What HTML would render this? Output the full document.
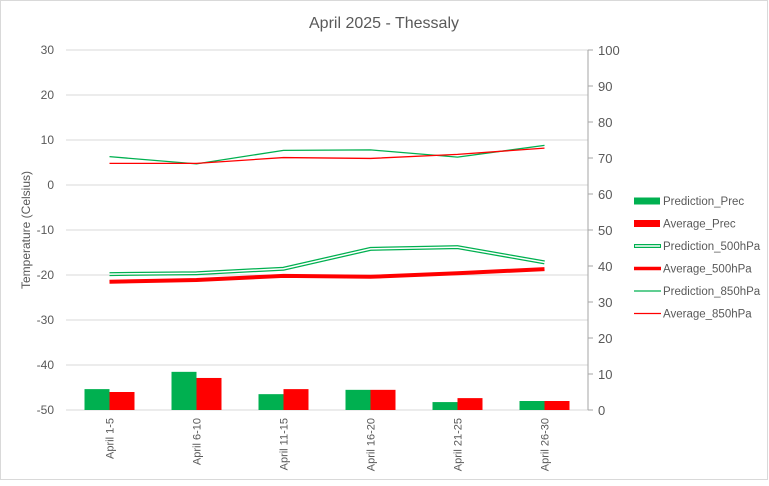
<!DOCTYPE html>
<html><head><meta charset="utf-8"><style>
body{margin:0;background:#fff;}
svg text{font-family:"Liberation Sans",sans-serif;fill:#595959;}
</style></head><body>
<svg width="769" height="481">
<rect x="0.5" y="0.5" width="767" height="479" fill="#fff" stroke="#d9d9d9"/>
<text x="384" y="28" font-size="16" text-anchor="middle">April 2025 - Thessaly</text>
<text transform="translate(30,230) rotate(-90)" font-size="12" text-anchor="middle">Temperature (Celsius)</text>
<g id="grid"></g><g id="bars"></g><g id="lines"></g><g id="axes"></g><g id="legend"></g>
</svg>
<script>
const categories=["April 1-5","April 6-10","April 11-15","April 16-20","April 21-25","April 26-30"];
const predPrec=[5.8,10.6,4.4,5.6,2.2,2.5];
const avgPrec=[5.0,8.9,5.8,5.6,3.3,2.5];
const pred500=[-19.8,-19.6,-18.6,-14.2,-13.8,-17.2];
const avg500=[-21.5,-21.1,-20.2,-20.4,-19.6,-18.7];
const pred850=[6.3,4.7,7.7,7.8,6.2,8.8];
const avg850=[4.8,4.8,6.1,5.9,6.8,8.2];
const leftTicks=[30,20,10,0,-10,-20,-30,-40,-50];
const rightTicks=[100,90,80,70,60,50,40,30,20,10,0];
const NS="http://www.w3.org/2000/svg";
const X0=66,X1=588,T=50,B=410;
const yL=v=>T+(30-v)/80*(B-T);
const yR=v=>B-v/100*(B-T);
const step=(X1-X0)/categories.length;
const xC=i=>X0+step*(i+0.5);
function mk(tag,attrs,parent){const e=document.createElementNS(NS,tag);for(const k in attrs)e.setAttribute(k,attrs[k]);parent.appendChild(e);return e;}
const grid=document.getElementById('grid'),axes=document.getElementById('axes');
leftTicks.forEach(v=>{
 const l=mk('line',{x1:X0,x2:X1,y1:yL(v),y2:yL(v),stroke:'#d9d9d9'},grid);
 
 
 const t=mk('text',{x:X0-12,y:yL(v)+4,'font-size':12,'text-anchor':'end'},axes);t.textContent=v;
 
 
});
const ra=mk('line',{x1:X1,x2:X1,y1:T,y2:B,stroke:'#a6a6a6'},axes);


rightTicks.forEach(v=>{
 mk('line',{x1:X1,x2:X1+5,y1:yR(v),y2:yR(v),stroke:'#a6a6a6'},axes);
 const t=mk('text',{x:X1+10,y:yR(v)+5,'font-size':13},axes);t.textContent=v;
 
 
});
categories.forEach((c,i)=>{
 const t=mk('text',{transform:`translate(${xC(i)+4},${B+8}) rotate(-90)`,'font-size':11,'text-anchor':'end'},axes);t.textContent=c;
 
 
});
const bars=document.getElementById('bars');const bw=25;
categories.forEach((c,i)=>{
 const b1=mk('rect',{x:xC(i)-bw,y:yR(predPrec[i]),width:bw,height:B-yR(predPrec[i]),fill:'#00b050'},bars);
 
 
 const b2=mk('rect',{x:xC(i),y:yR(avgPrec[i]),width:bw,height:B-yR(avgPrec[i]),fill:'#ff0000'},bars);
 
 
});
const lines=document.getElementById('lines');
function pts(a){return a.map((v,i)=>xC(i)+','+yL(v)).join(' ');}
let p;
p=mk('polyline',{points:pts(pred500),fill:'none',stroke:'#00b050','stroke-width':4},lines);


mk('polyline',{points:pts(pred500),fill:'none',stroke:'#fff','stroke-width':1.5},lines);
p=mk('polyline',{points:pts(avg500),fill:'none',stroke:'#ff0000','stroke-width':4},lines);


p=mk('polyline',{points:pts(pred850),fill:'none',stroke:'#00b050','stroke-width':1.3},lines);


p=mk('polyline',{points:pts(avg850),fill:'none',stroke:'#ff0000','stroke-width':1.3},lines);


const lg=document.getElementById('legend');
const items=[["Prediction_Prec","bar","#00b050"],["Average_Prec","bar","#ff0000"],["Prediction_500hPa","dbl","#00b050"],["Average_500hPa","thick","#ff0000"],["Prediction_850hPa","thin","#00b050"],["Average_850hPa","thin","#ff0000"]];
items.forEach((it,i)=>{
 const y=201+i*22.5;
 const g=mk('g',{},lg);
 
 
 if(it[1]=='bar')mk('rect',{x:634,y:y-3.5,width:26,height:7,fill:it[2]},g);
 else if(it[1]=='dbl'){mk('line',{x1:634,x2:661,y1:y,y2:y,stroke:it[2],'stroke-width':4},g);mk('line',{x1:635,x2:660,y1:y,y2:y,stroke:'#fff','stroke-width':1.5},g);}
 else mk('line',{x1:634,x2:661,y1:y,y2:y,stroke:it[2],'stroke-width':it[1]=='thick'?3.5:1.3},g);
 const t=mk('text',{x:663,y:y+4,'font-size':11.5},g);t.textContent=it[0];
});
</script>
</body></html>
